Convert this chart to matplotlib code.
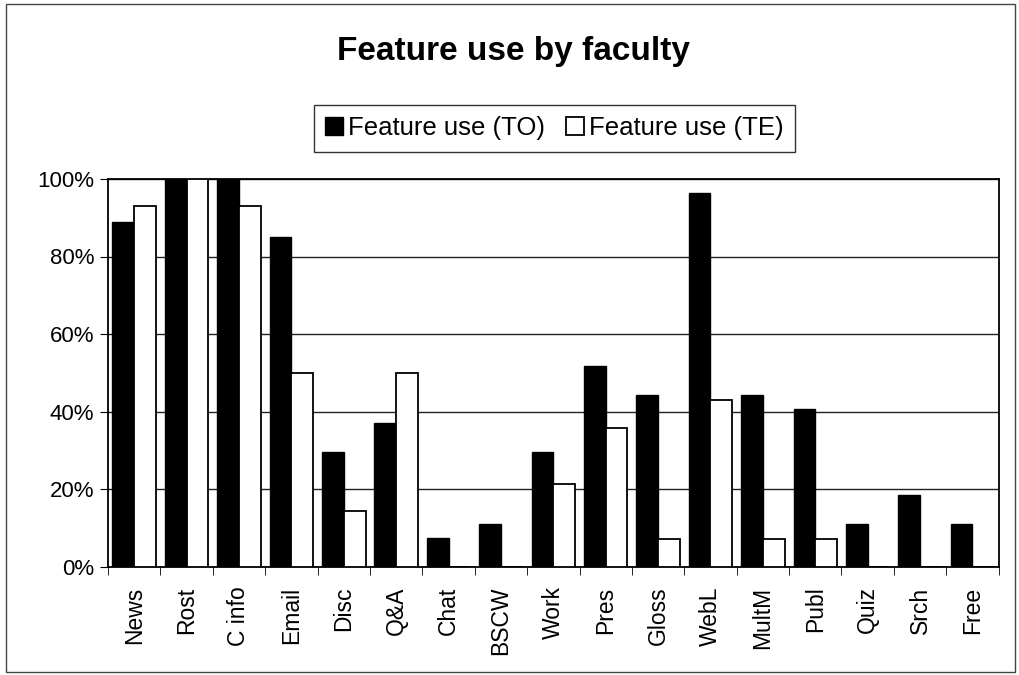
import matplotlib
matplotlib.use('Agg')
import matplotlib.pyplot as plt
import matplotlib.patches as mpatches
import numpy as np

plt.rcParams['font.family'] = ['Liberation Sans', 'DejaVu Sans']

features = ['News', 'Rost', 'C info', 'Email', 'Disc', 'Q&A', 'Chat', 'BSCW', 'Work',
            'Pres', 'Gloss', 'WebL', 'MultM', 'Publ', 'Quiz', 'Srch', 'Free']
use_to = [0.89, 1.00, 1.00, 0.85, 0.296, 0.37, 0.074, 0.111, 0.296,
          0.519, 0.444, 0.963, 0.444, 0.407, 0.111, 0.185, 0.111]
use_te = [0.929, 1.00, 0.929, 0.50, 0.143, 0.50, 0.0, 0.0, 0.214,
          0.357, 0.071, 0.429, 0.071, 0.071, 0.0, 0.0, 0.0]

fig = plt.figure(figsize=(10.19, 6.75), dpi=100)
ax = fig.add_axes([0.106, 0.160, 0.874, 0.575])

x = np.arange(len(features))
w = 0.415
ax.bar(x - w/2, use_to, w, color='black', edgecolor='black', lw=1, label='Feature use (TO)', zorder=3)
ax.bar(x + w/2, use_te, w, color='white', edgecolor='black', lw=1.3, label='Feature use (TE)', zorder=3)

ax.set_xlim(-0.5, len(features) - 0.5)
ax.set_ylim(0, 1)
yt = np.arange(0, 1.01, 0.2)
ax.set_yticks(yt)
ax.set_yticklabels([f'{int(round(v*100))}%' for v in yt], fontsize=16)
ax.yaxis.grid(True, color='#222222', lw=1)
ax.set_axisbelow(True)

ax.set_xticks(x)
ax.set_xticklabels(features, rotation=90, fontsize=16.5)
ax.set_xticks(np.arange(-0.5, len(features), 1), minor=True)
ax.tick_params(axis='x', which='major', length=0, pad=14)
ax.tick_params(axis='x', which='minor', length=6, direction='out')
ax.tick_params(axis='y', length=6, direction='out', pad=4)
for s in ax.spines.values():
    s.set_linewidth(1.3)

fig.text(0.504, 0.911, 'Feature use by faculty', ha='center', va='baseline',
         fontsize=24, fontweight='bold')

leg = fig.legend(loc='center', bbox_to_anchor=(0.544, 0.810), ncol=2, fontsize=18.5,
                 frameon=True, fancybox=False, edgecolor='#333333', framealpha=1,
                 handlelength=0.7, handleheight=0.7, handletextpad=0.2,
                 columnspacing=0.8, borderpad=0.45, borderaxespad=0)
leg.get_frame().set_linewidth(1)

# outer chart border
fig.patches.append(mpatches.Rectangle((0.006, 0.004), 0.99, 0.99, transform=fig.transFigure,
                                      fill=False, edgecolor='#444444', lw=1))

plt.savefig('out.png', dpi=100)
